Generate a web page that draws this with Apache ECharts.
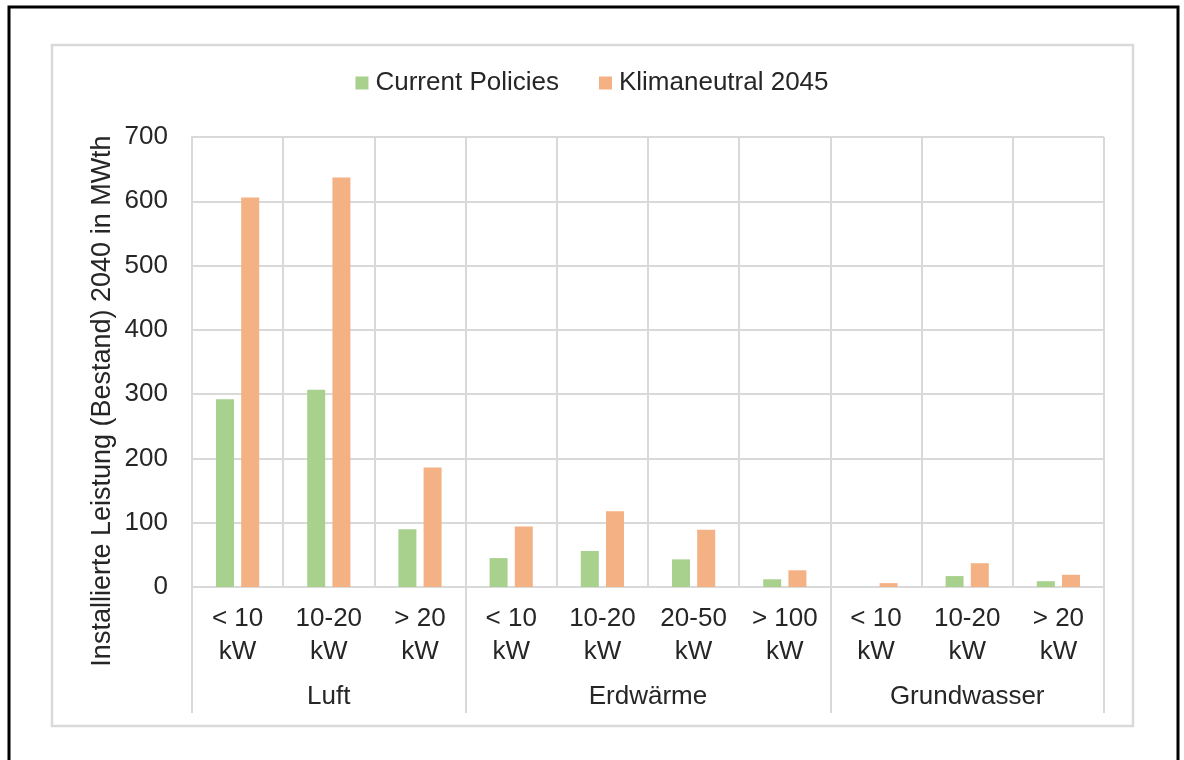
<!DOCTYPE html>
<html>
<head>
<meta charset="utf-8">
<title>Installierte Leistung 2040</title>
<script src="https://cdn.jsdelivr.net/npm/echarts@6/dist/echarts.min.js"></script>
<style>
  html, body { margin: 0; padding: 0; background: #fff; }
  #chart { width: 1184px; height: 760px; }
</style>
</head>
<body>
<div id="chart"></div>
<script>
// Unterkategorien (Leistungsklassen) und Gruppen
const sizeClasses = ['< 10\nkW', '10-20\nkW', '> 20\nkW', '< 10\nkW', '10-20\nkW', '20-50\nkW', '> 100\nkW', '< 10\nkW', '10-20\nkW', '> 20\nkW']
const groups = ['Luft', 'Erdwärme', 'Grundwasser']
const groupSpans = [3, 4, 3]

const currentPolicies = [292, 307, 90, 45, 56, 43, 12, 0, 17, 9]
const klimaneutral2045 = [606, 637, 186, 94, 118, 89, 26, 6, 37, 19]

const yTicks = [0, 100, 200, 300, 400, 500, 600, 700]

const GRID = '#D9D9D9'
const TEXT = '#262626'
const FONT = 'Liberation Sans, Arial, sans-serif'
const FS = 26

// Gruppengrenzen und -mitten auf einer 0..n Werteachse
const bounds = [0]
groupSpans.forEach(s => bounds.push(bounds[bounds.length - 1] + s))
const centers = groups.map((g, i) => (bounds[i] + bounds[i + 1]) / 2)

const chart = echarts.init(document.getElementById('chart'))

chart.setOption({
  animation: false,
  textStyle: { fontFamily: FONT, color: TEXT },
  legend: {
    top: 65,
    left: 'center',
    icon: 'rect',
    itemWidth: 13,
    itemHeight: 13,
    itemGap: 40,
    textStyle: { fontSize: FS, color: TEXT, fontFamily: FONT, padding: [0, 0, 0, 2] },
    data: ['Current Policies', 'Klimaneutral 2045']
  },
  grid: { left: 192, right: 80, top: 137, bottom: 173, containLabel: false },
  xAxis: [
    {
      type: 'category',
      data: sizeClasses,
      position: 'bottom',
      axisLine: { show: true, lineStyle: { color: GRID, width: 2 } },
      axisTick: { show: false },
      splitLine: { show: true, interval: 0, lineStyle: { color: GRID, width: 2 } },
      axisLabel: {
        interval: 0,
        margin: 15,
        fontSize: FS,
        lineHeight: 33,
        color: TEXT,
        fontFamily: FONT
      }
    },
    {
      type: 'value',
      position: 'bottom',
      min: 0,
      max: bounds[bounds.length - 1],
      axisLine: { show: false },
      splitLine: { show: false },
      axisTick: {
        show: true,
        customValues: bounds,
        length: 126,
        lineStyle: { color: GRID, width: 2 }
      },
      axisLabel: {
        customValues: centers,
        margin: 97,
        fontSize: FS,
        color: TEXT,
        fontFamily: FONT,
        formatter: v => {
          const i = centers.indexOf(v)
          return i >= 0 ? groups[i] : ''
        }
      }
    }
  ],
  yAxis: {
    type: 'value',
    min: 0,
    max: yTicks[yTicks.length - 1],
    interval: 100,
    axisLine: { show: true, lineStyle: { color: GRID, width: 2 } },
    axisTick: { show: false },
    splitLine: { show: true, lineStyle: { color: GRID, width: 2 } },
    axisLabel: { margin: 24, fontSize: FS, color: TEXT, fontFamily: FONT }
  },
  series: [
    {
      name: 'Current Policies',
      type: 'bar',
      xAxisIndex: 0,
      barWidth: 18,
      barGap: '40%',
      itemStyle: { color: '#A9D18E' },
      data: currentPolicies
    },
    {
      name: 'Klimaneutral 2045',
      type: 'bar',
      xAxisIndex: 0,
      barWidth: 18,
      barGap: '40%',
      itemStyle: { color: '#F4B183' },
      data: klimaneutral2045
    }
  ],
  graphic: [
    {
      type: 'rect',
      silent: true,
      shape: { x: 9, y: 7, width: 1169, height: 780 },
      style: { fill: null, stroke: '#000', lineWidth: 3 }
    },
    {
      type: 'rect',
      silent: true,
      shape: { x: 52, y: 45, width: 1081, height: 681 },
      style: { fill: null, stroke: GRID, lineWidth: 2.5 }
    },
    {
      type: 'text',
      silent: true,
      x: 103,
      y: 401,
      rotation: Math.PI / 2,
      style: {
        text: 'Installierte Leistung (Bestand) 2040 in MWth',
        fontSize: 27,
        fontFamily: FONT,
        fill: TEXT,
        align: 'center',
        verticalAlign: 'middle'
      }
    }
  ]
})

window.addEventListener('resize', () => chart.resize())
</script>
</body>
</html>
